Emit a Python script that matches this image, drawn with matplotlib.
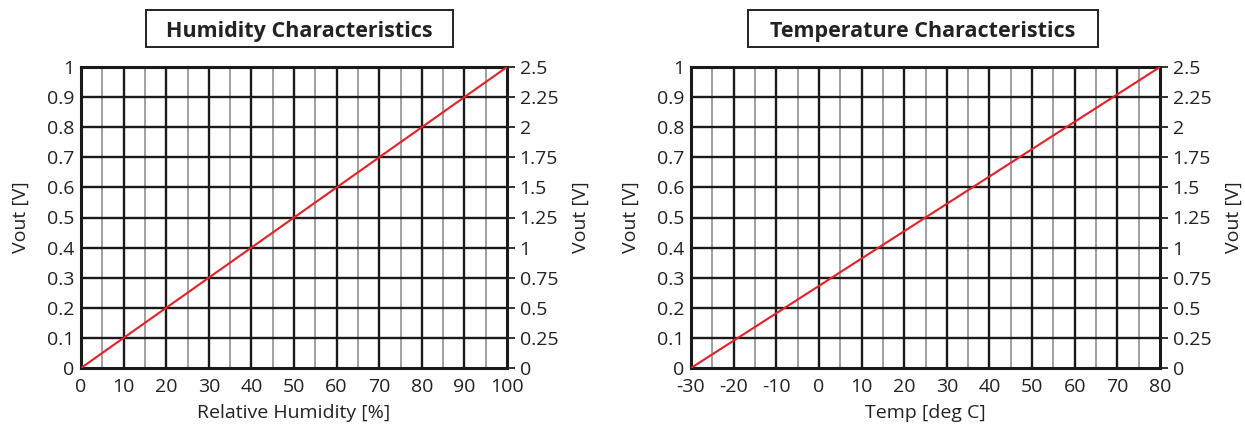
import numpy as np
import matplotlib.pyplot as plt
from matplotlib.patches import Rectangle

plt.rcParams['font.family'] = ['Open Sans', 'DejaVu Sans']
plt.rcParams['axes.unicode_minus'] = False

# humidity sensor: Vout vs relative humidity
rh = [0, 100]
vout_rh = [0, 1]

# temperature sensor: Vout vs temperature
temp = [-30, 80]
vout_temp = [0, 1]

y_ticks = [0, 0.1, 0.2, 0.3, 0.4, 0.5, 0.6, 0.7, 0.8, 0.9, 1]
y_tick_labels = ["0", "0.1", "0.2", "0.3", "0.4", "0.5", "0.6", "0.7", "0.8", "0.9", "1"]
y2_ticks = [0, 0.25, 0.5, 0.75, 1, 1.25, 1.5, 1.75, 2, 2.25, 2.5]
y2_tick_labels = ["0", "0.25", "0.5", "0.75", "1", "1.25", "1.5", "1.75", "2", "2.25", "2.5"]

txt = "#222222"
fs = 14


def draw_panel(ax, x, y, xmin, xmax, xlabel):
    ax.set_xlim(xmin, xmax)
    ax.set_ylim(0, 1)
    # minor vertical grid (every 5), major every 10
    for v in np.arange(xmin + 5, xmax, 10):
        ax.axvline(v, color="#a0a0a0", lw=1.4, zorder=1)
    for v in np.arange(xmin + 10, xmax, 10):
        ax.axvline(v, color="#1a1a1a", lw=1.7, zorder=2)
    for v in y_ticks[1:-1]:
        ax.axhline(v, color="#1a1a1a", lw=1.7, zorder=2)
    ax.plot(x, y, color="#ee1c24", lw=1.5, zorder=3)

    ticks = np.arange(xmin, xmax + 1, 10)
    ax.set_xticks(ticks)
    ax.set_xticklabels([str(t) for t in ticks])
    ax.set_yticks(y_ticks)
    ax.set_yticklabels(y_tick_labels)
    ax.tick_params(axis="both", length=0, labelsize=fs, colors=txt)
    ax.tick_params(axis="y", pad=5)
    ax.tick_params(axis="x", pad=7)
    for s in ax.spines.values():
        s.set_linewidth(2.2)
        s.set_color("#1a1a1a")
    ax.set_xlabel(xlabel, fontsize=fs, color=txt, labelpad=6)
    ax.set_ylabel("Vout [V]", fontsize=fs, color=txt, labelpad=12)

    ax2 = ax.twinx()
    ax2.set_ylim(0, 2.5)
    ax2.set_yticks(y2_ticks)
    ax2.set_yticklabels(y2_tick_labels)
    ax2.tick_params(axis="y", length=6, width=1.3, pad=3, labelsize=fs, colors=txt)
    for s in ax2.spines.values():
        s.set_visible(False)
    ax2.set_ylabel("Vout [V]", fontsize=fs, color=txt, labelpad=10)


def title_box(fig, x0, x1, title):
    # framed title above the panel, box in pixel units
    W, H = 1245, 425
    y0, y1 = 10, 47
    fig.patches.append(Rectangle((x0 / W, 1 - y1 / H), (x1 - x0) / W, (y1 - y0) / H,
                                 transform=fig.transFigure, facecolor="white",
                                 edgecolor="#222222", lw=1.4))
    fig.text((x0 + x1) / 2 / W, 1 - (y0 + y1) / 2 / H, title, ha="center", va="center_baseline",
             fontsize=15.5, fontweight="bold", color=txt)


fig = plt.figure(figsize=(12.45, 4.25), dpi=100)
ax_l = fig.add_axes([81 / 1245, 1 - 368 / 425, (507 - 81) / 1245, 301 / 425])
ax_r = fig.add_axes([691 / 1245, 1 - 368 / 425, (1160 - 691) / 1245, 301 / 425])

draw_panel(ax_l, rh, vout_rh, 0, 100, "Relative Humidity [%]")
draw_panel(ax_r, temp, vout_temp, -30, 80, "Temp [deg C]")
title_box(fig, 146, 453, "Humidity Characteristics")
title_box(fig, 748, 1098, "Temperature Characteristics")

fig.savefig("out.png", dpi=100, facecolor="white")
